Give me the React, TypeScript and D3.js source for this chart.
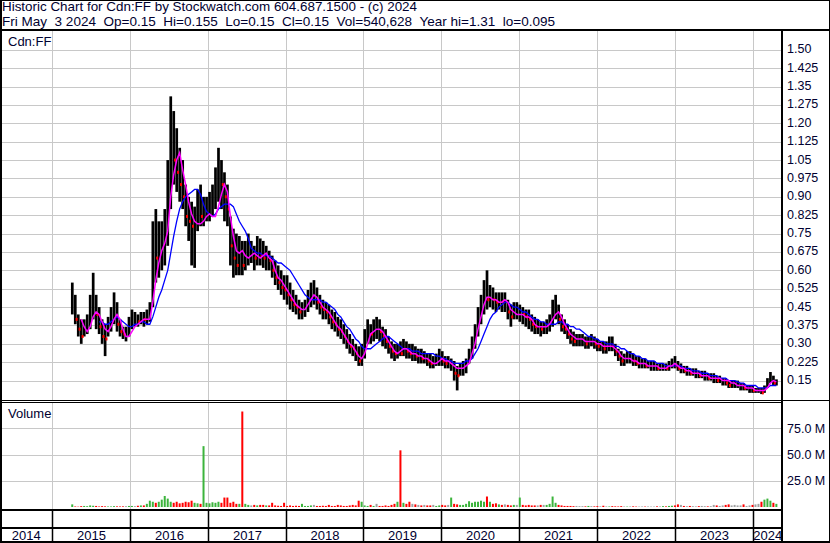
import React, { useEffect, useRef } from 'react';
import * as d3 from 'd3';

// Cdn:FF historic chart, biweekly bars.
// First bar is the week of 2015-04-06, then one bar every two weeks.

const firstBar = new Date(2015, 3, 6);

const high = [
  0.55, 0.50, 0.42, 0.40, 0.40, 0.42, 0.50, 0.59, 0.50, 0.45, 0.40, 0.38, 0.41, 0.45, 0.51, 0.47, 0.40, 0.37, 0.37, 0.41,
  0.44, 0.43, 0.42, 0.43, 0.43, 0.44, 0.47, 0.80, 0.85, 0.80, 0.80, 0.85, 1.05, 1.31, 1.25, 1.18, 1.10, 1.05, 0.95, 0.90, 0.88, 0.86, 0.93, 0.95, 0.90, 0.90,
  0.92, 0.95, 1.02, 1.10, 1.05, 1.00, 0.95, 0.82, 0.77, 0.75, 0.74, 0.72, 0.72, 0.75, 0.72, 0.70, 0.74, 0.73, 0.72, 0.70, 0.68, 0.66, 0.64, 0.62, 0.60, 0.58,
  0.58, 0.55, 0.52, 0.50, 0.48, 0.47, 0.48, 0.52, 0.55, 0.56, 0.53, 0.50, 0.48, 0.47, 0.46, 0.44, 0.43, 0.41, 0.40, 0.38, 0.36, 0.34, 0.32, 0.30, 0.29, 0.30,
  0.36, 0.40, 0.38, 0.40, 0.41, 0.40, 0.37, 0.36, 0.33, 0.31, 0.30, 0.30, 0.31, 0.32, 0.31, 0.30, 0.30, 0.29, 0.28, 0.28, 0.27, 0.26, 0.26, 0.25, 0.26, 0.28,
  0.27, 0.25, 0.25, 0.24, 0.23, 0.21, 0.22, 0.23, 0.24, 0.28, 0.33, 0.38, 0.45, 0.50, 0.56, 0.60, 0.54, 0.53, 0.51, 0.51, 0.51, 0.51, 0.48, 0.46, 0.47, 0.47,
  0.46, 0.45, 0.44, 0.44, 0.42, 0.41, 0.40, 0.39, 0.39, 0.40, 0.42, 0.48, 0.50, 0.46, 0.42, 0.40, 0.38, 0.36, 0.35, 0.34, 0.34, 0.34, 0.33, 0.33, 0.34, 0.33,
  0.32, 0.31, 0.31, 0.31, 0.33, 0.33, 0.30, 0.28, 0.27, 0.26, 0.27, 0.27, 0.26, 0.25, 0.25, 0.24, 0.24, 0.23, 0.23, 0.23, 0.22, 0.22, 0.22, 0.22, 0.23, 0.24,
  0.25, 0.23, 0.22, 0.21, 0.21, 0.20, 0.20, 0.20, 0.19, 0.19, 0.19, 0.18, 0.18, 0.18, 0.17, 0.17, 0.16, 0.16, 0.15, 0.15, 0.15, 0.15, 0.14, 0.14, 0.13, 0.13,
  0.13, 0.12, 0.12, 0.12, 0.13, 0.16, 0.185, 0.17, 0.155,
];

const low = [
  0.42, 0.38, 0.33, 0.30, 0.33, 0.34, 0.36, 0.40, 0.36, 0.34, 0.30, 0.25, 0.33, 0.35, 0.38, 0.35, 0.33, 0.32, 0.31, 0.33,
  0.36, 0.37, 0.37, 0.38, 0.37, 0.38, 0.39, 0.45, 0.55, 0.57, 0.60, 0.62, 0.70, 0.85, 0.95, 0.92, 0.88, 0.85, 0.78, 0.72, 0.62, 0.61, 0.76, 0.78, 0.78, 0.80,
  0.80, 0.82, 0.85, 0.88, 0.85, 0.80, 0.78, 0.62, 0.57, 0.58, 0.58, 0.58, 0.60, 0.62, 0.63, 0.60, 0.62, 0.62, 0.61, 0.60, 0.60, 0.57, 0.54, 0.52, 0.50, 0.48,
  0.46, 0.44, 0.43, 0.42, 0.40, 0.40, 0.41, 0.43, 0.45, 0.46, 0.44, 0.42, 0.40, 0.40, 0.38, 0.36, 0.35, 0.33, 0.32, 0.30, 0.28, 0.26, 0.25, 0.23, 0.21, 0.21,
  0.24, 0.30, 0.30, 0.31, 0.32, 0.31, 0.29, 0.28, 0.26, 0.24, 0.23, 0.24, 0.25, 0.25, 0.24, 0.24, 0.23, 0.23, 0.22, 0.22, 0.22, 0.21, 0.20, 0.20, 0.21, 0.21,
  0.21, 0.20, 0.20, 0.19, 0.15, 0.11, 0.17, 0.17, 0.18, 0.22, 0.24, 0.28, 0.33, 0.38, 0.42, 0.44, 0.45, 0.44, 0.43, 0.44, 0.43, 0.43, 0.40, 0.37, 0.40, 0.40,
  0.39, 0.38, 0.37, 0.36, 0.35, 0.34, 0.34, 0.33, 0.34, 0.34, 0.35, 0.37, 0.40, 0.38, 0.35, 0.34, 0.32, 0.30, 0.29, 0.29, 0.29, 0.29, 0.28, 0.28, 0.29, 0.28,
  0.27, 0.27, 0.26, 0.26, 0.27, 0.27, 0.25, 0.23, 0.21, 0.21, 0.22, 0.22, 0.21, 0.21, 0.20, 0.20, 0.20, 0.20, 0.19, 0.19, 0.19, 0.19, 0.19, 0.19, 0.19, 0.20,
  0.20, 0.19, 0.18, 0.18, 0.17, 0.17, 0.17, 0.16, 0.16, 0.16, 0.15, 0.15, 0.15, 0.14, 0.14, 0.14, 0.13, 0.13, 0.12, 0.12, 0.12, 0.12, 0.11, 0.11, 0.11, 0.10,
  0.10, 0.10, 0.10, 0.095, 0.10, 0.12, 0.14, 0.13, 0.13,
];

const close = [
  0.45, 0.40, 0.36, 0.33, 0.35, 0.37, 0.45, 0.47, 0.42, 0.37, 0.33, 0.32, 0.37, 0.40, 0.44, 0.38, 0.35, 0.34, 0.34, 0.38,
  0.40, 0.40, 0.39, 0.41, 0.40, 0.41, 0.44, 0.70, 0.65, 0.70, 0.72, 0.75, 0.95, 1.10, 1.05, 1.00, 0.95, 0.90, 0.82, 0.80, 0.78, 0.80, 0.85, 0.82, 0.83, 0.85,
  0.86, 0.88, 0.95, 1.00, 0.95, 0.90, 0.85, 0.70, 0.65, 0.62, 0.64, 0.62, 0.64, 0.66, 0.66, 0.65, 0.68, 0.66, 0.65, 0.66, 0.64, 0.60, 0.57, 0.55, 0.53, 0.52,
  0.50, 0.48, 0.46, 0.45, 0.43, 0.44, 0.45, 0.48, 0.50, 0.50, 0.47, 0.45, 0.44, 0.43, 0.41, 0.39, 0.38, 0.36, 0.35, 0.33, 0.31, 0.29, 0.28, 0.26, 0.23, 0.25,
  0.32, 0.36, 0.34, 0.36, 0.36, 0.35, 0.33, 0.31, 0.29, 0.27, 0.26, 0.27, 0.26, 0.28, 0.27, 0.26, 0.26, 0.25, 0.25, 0.24, 0.24, 0.23, 0.22, 0.22, 0.23, 0.24,
  0.23, 0.22, 0.22, 0.23, 0.18, 0.17, 0.19, 0.20, 0.22, 0.26, 0.30, 0.35, 0.42, 0.46, 0.50, 0.48, 0.49, 0.48, 0.47, 0.48, 0.47, 0.47, 0.43, 0.41, 0.43, 0.43,
  0.44, 0.42, 0.41, 0.40, 0.38, 0.37, 0.37, 0.36, 0.36, 0.37, 0.38, 0.44, 0.45, 0.40, 0.37, 0.36, 0.34, 0.32, 0.31, 0.31, 0.31, 0.31, 0.30, 0.31, 0.31, 0.30,
  0.29, 0.29, 0.28, 0.28, 0.30, 0.29, 0.27, 0.25, 0.23, 0.23, 0.24, 0.24, 0.23, 0.22, 0.22, 0.22, 0.21, 0.21, 0.21, 0.21, 0.20, 0.20, 0.21, 0.20, 0.21, 0.22,
  0.21, 0.20, 0.20, 0.19, 0.19, 0.18, 0.18, 0.18, 0.17, 0.17, 0.17, 0.16, 0.16, 0.16, 0.15, 0.15, 0.15, 0.14, 0.13, 0.13, 0.13, 0.13, 0.13, 0.12, 0.12, 0.12,
  0.11, 0.11, 0.11, 0.10, 0.12, 0.15, 0.16, 0.14, 0.15,
];

// magenta (short) and blue (long) moving averages, as drawn
const maFast = [
  null, null, null, 0.40, 0.37, 0.35, 0.37, 0.41, 0.43, 0.42, 0.39, 0.36, 0.35, 0.37, 0.40, 0.42, 0.40, 0.36, 0.33, 0.33,
  0.35, 0.37, 0.38, 0.39, 0.40, 0.40, 0.40, 0.47, 0.56, 0.63, 0.68, 0.71, 0.76, 0.90, 0.99, 1.05, 1.08, 1.01, 0.95, 0.88, 0.83, 0.80, 0.79, 0.79, 0.80, 0.82,
  0.83, 0.82, 0.82, 0.86, 0.91, 0.95, 0.92, 0.82, 0.74, 0.68, 0.67, 0.68, 0.66, 0.65, 0.66, 0.67, 0.66, 0.65, 0.66, 0.67, 0.65, 0.64, 0.60, 0.57, 0.56, 0.54,
  0.52, 0.50, 0.48, 0.46, 0.45, 0.44, 0.44, 0.46, 0.48, 0.50, 0.49, 0.47, 0.45, 0.44, 0.43, 0.41, 0.39, 0.37, 0.36, 0.34, 0.32, 0.30, 0.29, 0.27, 0.25, 0.24,
  0.26, 0.30, 0.34, 0.35, 0.36, 0.36, 0.35, 0.33, 0.31, 0.29, 0.27, 0.26, 0.27, 0.28, 0.28, 0.27, 0.26, 0.26, 0.25, 0.25, 0.24, 0.24, 0.23, 0.22, 0.22, 0.23,
  0.24, 0.23, 0.23, 0.22, 0.21, 0.20, 0.20, 0.20, 0.21, 0.22, 0.26, 0.30, 0.36, 0.41, 0.46, 0.49, 0.49, 0.48, 0.48, 0.47, 0.47, 0.48, 0.47, 0.44, 0.43, 0.42,
  0.42, 0.42, 0.41, 0.41, 0.40, 0.38, 0.37, 0.37, 0.37, 0.37, 0.38, 0.40, 0.42, 0.43, 0.41, 0.38, 0.36, 0.34, 0.33, 0.32, 0.32, 0.32, 0.31, 0.31, 0.31, 0.31,
  0.30, 0.30, 0.29, 0.29, 0.29, 0.29, 0.28, 0.27, 0.25, 0.24, 0.24, 0.24, 0.23, 0.23, 0.22, 0.22, 0.22, 0.21, 0.21, 0.21, 0.21, 0.20, 0.20, 0.20, 0.21, 0.21,
  0.22, 0.21, 0.20, 0.20, 0.19, 0.19, 0.18, 0.18, 0.18, 0.17, 0.17, 0.17, 0.16, 0.16, 0.16, 0.16, 0.15, 0.15, 0.15, 0.14, 0.14, 0.13, 0.13, 0.13, 0.12, 0.12,
  0.12, 0.11, 0.11, 0.11, 0.11, 0.12, 0.14, 0.15, 0.145,
];

const maSlow = [
  null, null, null, null, null, null, null, null, null, 0.39, 0.39, 0.38, 0.38, 0.39, 0.40, 0.41, 0.40, 0.39, 0.38, 0.37,
  0.37, 0.38, 0.38, 0.39, 0.39, 0.38, 0.38, 0.41, 0.45, 0.49, 0.52, 0.56, 0.60, 0.67, 0.74, 0.80, 0.85, 0.88, 0.90, 0.91, 0.92, 0.93, 0.93, 0.91, 0.87, 0.84,
  0.83, 0.82, 0.83, 0.85, 0.86, 0.87, 0.87, 0.87, 0.86, 0.83, 0.80, 0.78, 0.76, 0.73, 0.69, 0.68, 0.67, 0.67, 0.66, 0.66, 0.66, 0.65, 0.64, 0.63, 0.63, 0.62,
  0.61, 0.60, 0.58, 0.56, 0.54, 0.52, 0.50, 0.49, 0.48, 0.48, 0.48, 0.48, 0.47, 0.47, 0.46, 0.45, 0.44, 0.42, 0.41, 0.39, 0.37, 0.36, 0.34, 0.32, 0.31, 0.29,
  0.28, 0.28, 0.28, 0.29, 0.30, 0.31, 0.32, 0.33, 0.33, 0.32, 0.31, 0.30, 0.29, 0.28, 0.28, 0.28, 0.27, 0.27, 0.27, 0.26, 0.26, 0.26, 0.26, 0.26, 0.25, 0.25,
  0.24, 0.24, 0.23, 0.23, 0.22, 0.22, 0.22, 0.22, 0.23, 0.23, 0.24, 0.26, 0.28, 0.31, 0.34, 0.37, 0.40, 0.42, 0.43, 0.45, 0.46, 0.47, 0.47, 0.46, 0.45, 0.45,
  0.44, 0.43, 0.43, 0.42, 0.41, 0.40, 0.40, 0.39, 0.39, 0.38, 0.38, 0.38, 0.38, 0.39, 0.39, 0.38, 0.38, 0.37, 0.37, 0.36, 0.36, 0.35, 0.34, 0.33, 0.33, 0.32,
  0.32, 0.31, 0.31, 0.30, 0.30, 0.30, 0.29, 0.29, 0.28, 0.28, 0.27, 0.26, 0.26, 0.25, 0.25, 0.24, 0.24, 0.23, 0.23, 0.23, 0.22, 0.22, 0.22, 0.21, 0.21, 0.21,
  0.21, 0.21, 0.21, 0.20, 0.20, 0.20, 0.19, 0.19, 0.19, 0.18, 0.18, 0.18, 0.17, 0.17, 0.17, 0.16, 0.16, 0.16, 0.15, 0.15, 0.15, 0.145, 0.14, 0.14, 0.13, 0.13,
  0.13, 0.13, 0.12, 0.12, 0.12, 0.12, 0.13, 0.13, 0.13,
];

// volume, millions of shares
const volume = [
  2.5, 0.5, 0.3, 0.8, 1.0, 0.8, 1.5, 1.2, 1.0, 0.5, 0.8, 0.6, 0.5, 0.5, 0.8, 0.6, 0.5, 0.6, 0.8, 1.0,
  1.0, 0.8, 1.2, 1.5, 1.5, 3.0, 6.0, 5.0, 4.0, 5.0, 7.0, 10.5, 8.0, 5.0, 4.0, 5.0, 3.5, 4.0, 5.0, 4.5, 6.0, 4.0, 3.5, 3.0, 58, 4.0,
  3.5, 4.5, 4.0, 5.0, 4.0, 9.0, 9.0, 4.0, 5.0, 3.0, 3.0, 91, 3.0, 2.0, 1.5, 2.0, 1.5, 2.0, 2.0, 1.5, 1.5, 4.0, 1.5, 1.2, 1.0, 4.0,
  1.0, 1.5, 1.0, 1.2, 1.0, 3.0, 1.0, 1.0, 1.5, 2.0, 1.0, 1.0, 1.2, 1.0, 2.0, 1.0, 1.0, 2.0, 1.5, 1.0, 1.0, 1.5, 2.0, 1.5, 6.0, 5.0,
  1.5, 1.0, 2.0, 1.0, 3.0, 1.0, 1.0, 1.5, 1.0, 2.0, 3.0, 5.0, 54, 4.0, 3.0, 5.0, 3.0, 2.5, 2.0, 1.5, 2.0, 1.5, 1.5, 2.0, 1.0, 1.5,
  2.0, 1.5, 2.0, 9.0, 3.0, 2.5, 2.0, 2.0, 3.0, 5.5, 4.0, 5.0, 5.0, 6.0, 5.0, 10.0, 5.0, 3.0, 3.5, 2.5, 2.0, 2.5, 2.0, 1.5, 2.0, 2.0,
  9.0, 2.0, 1.5, 2.0, 1.5, 1.5, 1.5, 2.0, 2.0, 2.0, 3.0, 10.0, 4.0, 2.0, 1.5, 1.0, 1.0, 1.0, 0.8, 1.0, 0.8, 0.8, 0.6, 1.0, 0.8, 0.6,
  0.8, 0.6, 1.2, 0.6, 0.5, 0.8, 0.6, 0.5, 0.8, 0.5, 0.4, 0.5, 0.6, 0.4, 0.4, 0.5, 0.4, 0.5, 0.4, 0.4, 0.6, 0.5, 0.8, 0.6, 1.0, 1.2,
  1.5, 2.5, 2.0, 1.0, 0.8, 1.0, 0.8, 0.6, 0.8, 1.0, 0.8, 0.6, 0.8, 2.0, 1.5, 1.0, 1.5, 2.0, 2.5, 1.5, 2.0, 1.5, 1.5, 2.5, 1.0, 1.5,
  2.0, 2.5, 3.0, 5.0, 7.0, 8.0, 6.0, 4.0, 3.0,
];

const priceTicks = ['1.50', '1.425', '1.35', '1.275', '1.20', '1.125', '1.05', '0.975', '0.90', '0.825',
  '0.75', '0.675', '0.60', '0.525', '0.45', '0.375', '0.30', '0.225', '0.15'];
const volumeTicks = [25, 50, 75];
const years = [2014, 2015, 2016, 2017, 2018, 2019, 2020, 2021, 2022, 2023, 2024];

const title = 'Historic Chart for Cdn:FF by Stockwatch.com 604.687.1500 - (c) 2024';
const quote = 'Fri May  3 2024  Op=0.15  Hi=0.155  Lo=0.15  Cl=0.15  Vol=540,628  Year hi=1.31  lo=0.095';

const width = 830;
const height = 543;
const plotRight = 782;
const priceTop = 31;
const priceBottom = 400;
const volTop = 403;
const volBottom = 509;
const font = '"Liberation Sans", Arial, sans-serif';
const ink = '#000030';

const App = () => {
  const domref = useRef<SVGSVGElement>(null);

  useEffect(() => {
    const svg = d3.select(domref.current);
    svg.selectAll('*').remove();

    const dates = close.map((_, i) => d3.timeWeek.offset(firstBar, 2 * i));
    const bars = dates.map((d, i) => ({
      date: d, hi: high[i], lo: low[i], cl: close[i], vol: volume[i],
      dir: i === 0 ? 1 : Math.sign(close[i] - close[i - 1]),
    }));

    const x = d3.scaleTime()
      .domain([new Date(2015, 0, 1), new Date(2024, 0, 1)])
      .range([52, 752.5]);
    const y = d3.scaleLinear().domain([0.15, 1.5]).range([380.6, 49.8]);
    const yv = d3.scaleLinear().domain([0, 75]).range([507, 428.3]);

    svg.append('rect').attr('width', width).attr('height', height).attr('fill', 'white');

    const defs = svg.append('defs');
    defs.append('clipPath').attr('id', 'price-clip')
      .append('rect').attr('x', 0).attr('y', priceTop).attr('width', plotRight - 1).attr('height', priceBottom - priceTop);

    const bounds = years.slice(1).map(yr => Math.round(x(new Date(yr, 0, 1))) + 0.5);

    // grid
    const grid = svg.append('g').attr('stroke', '#c8c8c8').attr('stroke-width', 1);
    grid.selectAll('line.h')
      .data(priceTicks)
      .join('line')
      .attr('x1', 0).attr('x2', plotRight - 1)
      .attr('y1', d => Math.round(y(+d)) + 0.5)
      .attr('y2', d => Math.round(y(+d)) + 0.5);
    grid.selectAll('line.vh')
      .data(volumeTicks)
      .join('line')
      .attr('class', 'vh')
      .attr('x1', 0).attr('x2', plotRight - 1)
      .attr('y1', d => Math.round(yv(d)) + 0.5)
      .attr('y2', d => Math.round(yv(d)) + 0.5);
    bounds.forEach(bx => {
      grid.append('line').attr('x1', bx).attr('x2', bx).attr('y1', priceTop).attr('y2', priceBottom);
      grid.append('line').attr('x1', bx).attr('x2', bx).attr('y1', volTop).attr('y2', volBottom);
    });

    // price bars
    const price = svg.append('g').attr('clip-path', 'url(#price-clip)');
    price.append('g')
      .selectAll('rect')
      .data(bars)
      .join('rect')
      .attr('x', d => x(d.date) - 1.3)
      .attr('width', 2.7)
      .attr('y', d => y(d.hi))
      .attr('height', d => Math.max(1, y(d.lo) - y(d.hi)))
      .attr('fill', 'black');
    price.append('g')
      .selectAll('rect')
      .data(bars.filter(d => d.dir < 0))
      .join('rect')
      .attr('x', d => x(d.date) + 0.4)
      .attr('width', 2)
      .attr('y', d => y(d.cl) - 1.5)
      .attr('height', 3)
      .attr('fill', '#ff0000');

    const maLine = (vals: (number | null)[]) => d3.line<number | null>()
      .defined(v => v != null)
      .x((_, i) => x(dates[i]))
      .y(v => y(v as number))(vals);

    price.append('path')
      .attr('d', maLine(maSlow))
      .attr('fill', 'none')
      .attr('stroke', '#0000ff')
      .attr('stroke-width', 1.3);
    price.append('path')
      .attr('d', maLine(maFast))
      .attr('fill', 'none')
      .attr('stroke', '#ff00ff')
      .attr('stroke-width', 1.5);

    // volume bars
    svg.append('g')
      .selectAll('rect')
      .data(bars)
      .join('rect')
      .attr('x', d => x(d.date) - 1)
      .attr('width', 2)
      .attr('y', d => yv(d.vol))
      .attr('height', d => yv(0) - yv(d.vol))
      .attr('fill', d => d.dir > 0 ? '#3cb43c' : d.dir < 0 ? '#ff0000' : '#a0a0a0');

    // frame
    const frame = svg.append('g').attr('fill', 'black');
    frame.append('rect').attr('x', 0.5).attr('y', 0.5).attr('width', width - 1).attr('height', height - 1)
      .attr('fill', 'none').attr('stroke', 'black');
    frame.append('rect').attr('x', 0).attr('y', 0).attr('width', 2).attr('height', height);
    frame.append('rect').attr('x', 0).attr('y', 29).attr('width', width).attr('height', 2);
    frame.append('rect').attr('x', plotRight - 1).attr('y', priceTop).attr('width', 2).attr('height', height - priceTop);
    frame.append('rect').attr('x', 0).attr('y', priceBottom).attr('width', width).attr('height', 1);
    frame.append('rect').attr('x', 0).attr('y', priceBottom + 2).attr('width', plotRight).attr('height', 1);
    frame.append('rect').attr('x', 0).attr('y', volBottom).attr('width', plotRight).attr('height', 2);
    frame.append('rect').attr('x', 0).attr('y', 527).attr('width', plotRight).attr('height', 2);
    frame.append('rect').attr('x', 0).attr('y', height - 2).attr('width', width).attr('height', 2);
    bounds.forEach(bx => {
      frame.append('rect').attr('x', bx - 0.75).attr('y', volBottom).attr('width', 1.5).attr('height', height - volBottom);
    });

    // text
    const text = svg.append('g').attr('font-family', font).attr('fill', ink);
    text.append('text').attr('x', 2).attr('y', 11).attr('font-size', 13)
      .attr('textLength', 415).attr('lengthAdjust', 'spacingAndGlyphs').text(title);
    text.append('text').attr('x', 2).attr('y', 26).attr('font-size', 13)
      .style('white-space', 'pre')
      .attr('textLength', 553).attr('lengthAdjust', 'spacingAndGlyphs').text(quote);
    text.append('text').attr('x', 8).attr('y', 46).attr('font-size', 13).text('Cdn:FF');
    text.append('text').attr('x', 8).attr('y', 418).attr('font-size', 13).text('Volume');

    text.append('g').attr('font-size', 12.5)
      .selectAll('text')
      .data(priceTicks)
      .join('text')
      .attr('x', 787)
      .attr('y', d => y(+d) + 3.5)
      .text(d => d);
    text.append('g').attr('font-size', 12.5)
      .selectAll('text')
      .data(volumeTicks)
      .join('text')
      .attr('x', 787)
      .attr('y', d => yv(d) + 4.5)
      .text(d => `${d3.format('.1f')(d)} M`);

    const edges = [0, ...bounds, plotRight];
    text.append('g').attr('font-size', 13).attr('text-anchor', 'middle')
      .selectAll('text')
      .data(years)
      .join('text')
      .attr('x', (_, i) => (edges[i] + edges[i + 1]) / 2)
      .attr('y', 540)
      .text(d => d);
  }, []);

  return (
    <div style={{ position: 'absolute', left: 0, top: 0 }}>
      <svg ref={domref} width={width} height={height}></svg>
    </div>
  );
};

export default App;
